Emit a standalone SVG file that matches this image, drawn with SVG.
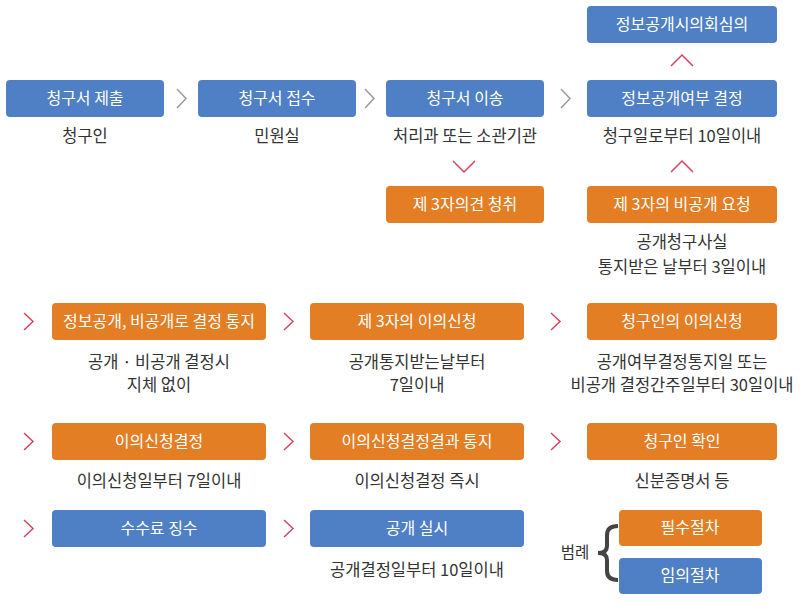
<svg xmlns="http://www.w3.org/2000/svg" width="806" height="607" viewBox="0 0 806 607">
<style>
.b{fill:#4f7fc4}
.o{fill:#e37e24}
.bt{font-family:"Noto Sans CJK KR","Noto Sans",sans-serif;font-size:16px;fill:#fff;text-anchor:middle}
.st{font-family:"Noto Sans CJK KR","Noto Sans",sans-serif;font-size:16.5px;fill:#333;text-anchor:middle}
.lg{font-family:"Noto Sans CJK KR","Noto Sans",sans-serif;font-size:15.5px;fill:#333;text-anchor:middle}
.g{fill:none;stroke:#9a9a9a;stroke-width:1.5}
.r{fill:none;stroke:#d8435e;stroke-width:1.5}
</style>
<rect width="806" height="607" fill="#fff"/>
<g id="connectors">
<polyline class="g" points="177,89 186,98.5 177,108"/>
<polyline class="g" points="365,89 374,98.5 365,108"/>
<polyline class="g" points="561,89 570,98.5 561,108"/>
<polyline class="r" points="453,161 464,172 475,161"/>
<polyline class="r" points="671,66 682,55 693,66"/>
<polyline class="r" points="671,172 682,161 693,172"/>
<polyline class="r" points="24,313 33,321.5 24,330"/>
<polyline class="r" points="284,313 293,321.5 284,330"/>
<polyline class="r" points="551,313 560,321.5 551,330"/>
<polyline class="r" points="24,433 33,441.5 24,450"/>
<polyline class="r" points="284,433 293,441.5 284,450"/>
<polyline class="r" points="551,433 560,441.5 551,450"/>
<polyline class="r" points="24,520 33,528.5 24,537"/>
<polyline class="r" points="284,520 293,528.5 284,537"/>
</g>
<g id="n-top"><rect class="b" x="587" y="6" width="190" height="37" rx="4"/><text class="bt" x="682" y="30">정보공개시의회심의</text></g>
<g id="n1"><rect class="b" x="6" y="80" width="158" height="37" rx="4"/><text class="bt" x="85" y="104">청구서 제출</text><text class="st" x="85" y="142">청구인</text></g>
<g id="n2"><rect class="b" x="198" y="80" width="158" height="37" rx="4"/><text class="bt" x="277" y="104">청구서 접수</text><text class="st" x="277" y="142">민원실</text></g>
<g id="n3"><rect class="b" x="386" y="80" width="158" height="37" rx="4"/><text class="bt" x="465" y="104">청구서 이송</text><text class="st" x="465" y="142">처리과 또는 소관기관</text></g>
<g id="n4"><rect class="b" x="587" y="80" width="190" height="37" rx="4"/><text class="bt" x="682" y="104">정보공개여부 결정</text><text class="st" x="682" y="142">청구일로부터 10일이내</text></g>
<g id="n5"><rect class="o" x="386" y="186" width="158" height="37" rx="4"/><text class="bt" x="465" y="210">제 3자의견 청취</text></g>
<g id="n6"><rect class="o" x="587" y="186" width="190" height="37" rx="4"/><text class="bt" x="682" y="210">제 3자의 비공개 요청</text><text class="st" x="682" y="248">공개청구사실</text><text class="st" x="682" y="273">통지받은 날부터 3일이내</text></g>
<g id="n7"><rect class="o" x="52" y="303" width="214" height="37" rx="4"/><text class="bt" x="159" y="327">정보공개, 비공개로 결정 통지</text><text class="st" x="159" y="368">공개 · 비공개 결정시</text><text class="st" x="159" y="391">지체 없이</text></g>
<g id="n8"><rect class="o" x="310" y="303" width="214" height="37" rx="4"/><text class="bt" x="417" y="327">제 3자의 이의신청</text><text class="st" x="417" y="368">공개통지받는날부터</text><text class="st" x="417" y="391">7일이내</text></g>
<g id="n9"><rect class="o" x="587" y="303" width="190" height="37" rx="4"/><text class="bt" x="682" y="327">청구인의 이의신청</text><text class="st" x="682" y="368">공개여부결정통지일 또는</text><text class="st" x="682" y="391">비공개 결정간주일부터 30일이내</text></g>
<g id="n10"><rect class="o" x="52" y="423" width="214" height="37" rx="4"/><text class="bt" x="159" y="447">이의신청결정</text><text class="st" x="159" y="487">이의신청일부터 7일이내</text></g>
<g id="n11"><rect class="o" x="310" y="423" width="214" height="37" rx="4"/><text class="bt" x="417" y="447">이의신청결정결과 통지</text><text class="st" x="417" y="487">이의신청결정 즉시</text></g>
<g id="n12"><rect class="o" x="587" y="423" width="190" height="37" rx="4"/><text class="bt" x="682" y="447">청구인 확인</text><text class="st" x="682" y="487">신분증명서 등</text></g>
<g id="n13"><rect class="b" x="52" y="510" width="214" height="37" rx="4"/><text class="bt" x="159" y="534">수수료 징수</text></g>
<g id="n14"><rect class="b" x="310" y="510" width="214" height="37" rx="4"/><text class="bt" x="417" y="534">공개 실시</text><text class="st" x="417" y="576">공개결정일부터 10일이내</text></g>
<g id="legend">
<text class="lg" x="575" y="558">범례</text>
<path d="M618,526 Q607,526 607,535 L607,546 Q607,553 598,553 Q607,553 607,560 L607,571 Q607,580 618,580" fill="none" stroke="#444" stroke-width="4"/>
<rect class="o" x="619" y="510" width="143" height="36" rx="4"/><text class="bt" x="690" y="533">필수절차</text>
<rect class="b" x="619" y="558" width="143" height="36" rx="4"/><text class="bt" x="690" y="581">임의절차</text>
</g>
</svg>
